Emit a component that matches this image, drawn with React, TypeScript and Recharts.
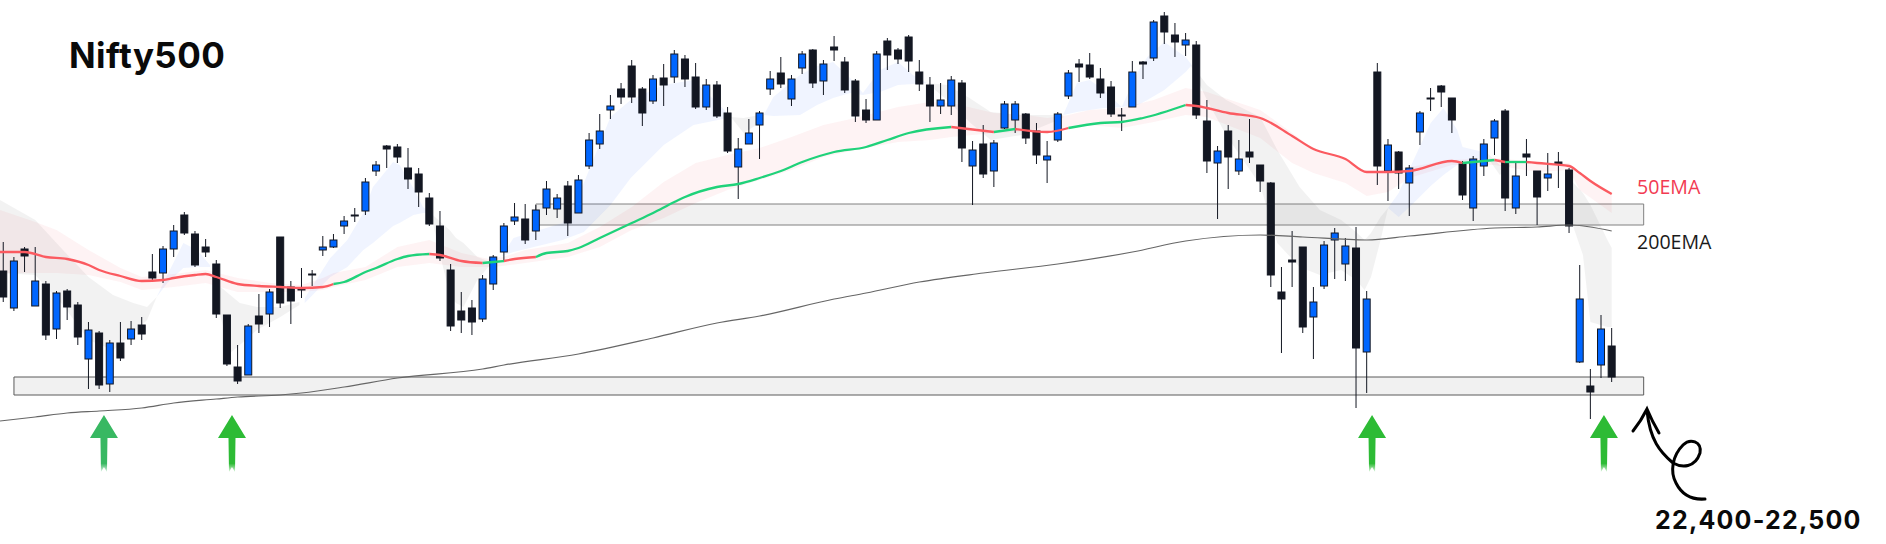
import React from 'react';
import { ComposedChart, XAxis, YAxis, Bar, Line, Area, ReferenceArea, ReferenceDot } from 'recharts';

const highs = [
23175,23100,23150,23150,22980,22930,22940,22875,22775,22730,
22685,22775,22780,22800,23115,23155,23260,23325,23230,23190,
23085,22810,22660,22765,22915,22940,23200,22980,23045,23035,
23205,23215,23305,23345,23495,23580,23660,23665,23645,23545,
23420,23330,23065,22925,22885,23010,23110,23270,23370,23365,
23360,23480,23415,23480,23510,23720,23815,23910,23970,24085,
23950,24010,24065,24135,24110,24070,23990,23980,23850,23695,
23790,23830,24030,24100,24010,24130,24140,24085,24205,24100,
23990,23890,24130,24195,24145,24210,24085,24000,23970,24005,
23985,23680,23760,23685,23880,23880,23820,23770,23680,23825,
24035,24090,24120,24045,23980,23845,24080,24080,24285,24325,
24270,24220,24180,23885,23655,23760,23685,23790,23560,23475,
23050,23230,23150,22950,23180,23245,23195,23250,22930,24070,
23690,23630,23560,23830,23945,23960,23895,23580,23605,23690,
23790,23840,23580,23690,23530,23620,23625,23545,23060,22540,
22810,22745];
const lows = [
22875,22830,23025,22855,22685,22690,22785,22660,22440,22440,
22425,22580,22660,22685,22975,22970,23100,23210,23050,23100,
22795,22555,22465,22510,22720,22750,22845,22765,22895,22955,
23105,23145,23215,23275,23310,23505,23545,23570,23440,23350,
23255,23080,22730,22720,22710,22775,22935,23080,23260,23165,
23185,23310,23295,23205,23320,23540,23640,23790,23865,23870,
23755,23865,23855,23970,23950,23840,23835,23795,23620,23390,
23665,23590,23910,23945,23855,24015,23945,23910,24080,23920,
23775,23770,23785,24035,24065,24025,23930,23775,23815,23810,
23575,23360,23495,23450,23740,23720,23665,23565,23470,23675,
23890,23975,23990,23895,23800,23730,23850,23990,24080,24165,
24100,24105,23790,23520,23290,23440,23510,23570,23425,22950,
22620,22950,22720,22590,22940,22990,22980,22345,22420,23460,
23380,23440,23305,23660,23830,23850,23720,23385,23280,23505,
23610,23330,23315,23505,23260,23430,23445,23220,22570,22290,
22495,22475];
const opens = [
23030,22845,23140,22855,22965,22740,22930,22860,22590,22720,
22465,22670,22690,22760,23025,23020,23140,23310,23215,23150,
23065,22810,22550,22510,22805,22815,23200,22950,22945,23015,
23135,23150,23255,23310,23330,23530,23655,23650,23545,23515,
23395,23255,23035,22830,22845,22790,22965,23125,23280,23290,
23230,23345,23340,23455,23320,23555,23665,23835,23940,24055,
23940,23880,23995,24000,24090,24000,23850,23960,23820,23550,
23665,23760,23940,24020,23890,24045,24135,23980,24150,24075,
23980,23835,23785,24180,24135,24200,24025,23960,23855,23855,
23970,23555,23665,23530,23745,23785,23815,23730,23585,23685,
23905,24065,24060,23990,23950,23810,23850,24075,24095,24305,
24210,24160,24160,23780,23570,23730,23530,23625,23560,23470,
22925,23085,23150,22800,22955,23185,23065,23145,22625,24025,
23530,23625,23470,23725,23895,23955,23895,23565,23345,23555,
23695,23830,23345,23615,23530,23495,23575,23535,22575,22455,
22560,22655];
const closes = [
22900,23080,23105,22980,22710,22920,22850,22700,22735,22460,
22670,22595,22740,22715,22995,23140,23230,23220,23060,23125,
22815,22565,22480,22755,22765,22925,22870,22880,22935,23010,
23150,23185,23280,23305,23475,23560,23640,23600,23490,23425,
23265,23095,22755,22785,22775,22990,23100,23255,23300,23185,
23335,23440,23395,23270,23485,23685,23730,23855,23900,23900,
23820,23990,23960,24115,23990,23850,23960,23805,23630,23640,
23720,23820,23990,23965,23990,24115,23970,24065,24135,23935,
23805,23785,24115,24110,24090,24080,23965,23855,23885,23985,
23645,23635,23515,23670,23865,23865,23695,23610,23605,23815,
24020,24050,24000,23920,23815,23805,24025,24065,24275,24225,
24175,24185,23810,23580,23630,23600,23590,23600,23480,23010,
22890,23075,22750,22875,23160,23220,23155,22645,22890,23555,
23660,23520,23545,23820,23890,23925,23785,23410,23590,23665,
23780,23395,23505,23600,23400,23515,23565,23255,22890,22425,
22740,22500];

const ema50: number[][] = [
[-0.31,23125],[2,23125],[4,23100],[6,23090],[8,23060],[9,23035],[11,23005],[13,22980],[15,22985],[16,22995],
[18,23010],[19,23015],[20,23000],[22,22965],[24,22955],[26,22950],[28,22945],[30,22950],[31,22965],[32,22975],
[34,23025],[35,23045],[37,23090],[38,23105],[40,23115],[41,23110],[43,23080],[45,23070],[46,23075],[47,23080],
[48,23090],[50,23100],[51,23120],[53,23130],[54,23145],[56,23195],[59,23270],[61,23320],[63,23375],[64,23400],
[67,23450],[69,23465],[71,23495],[73,23530],[75,23575],[78,23625],[81,23650],[83,23685],[85,23720],[89,23750],
[93,23725],[95,23740],[98,23725],[100,23745],[103,23770],[105,23775],[107,23795],[111,23860],[112,23855],[115,23820],
[118,23795],[121,23705],[123,23640],[126,23590],[128,23525],[130,23525],[132,23530],[136,23580],[137,23570],[140,23585],
[141,23575],[143,23575],[144,23570],[147,23555],[148,23520],[149,23480],[151,23415]];
const emaSegments: [number, number, string][] = [
[-1,31,'#fb5a60'],[31,40,'#1fd27a'],[40,45,'#fb5a60'],[45,47,'#1fd27a'],[47,50,'#fb5a60'],[50,89,'#1fd27a'],
[89,93,'#fb5a60'],[93,95,'#1fd27a'],[95,100,'#fb5a60'],[100,111,'#1fd27a'],[111,137,'#fb5a60'],[137,140,'#1fd27a'],
[140,141,'#fb5a60'],[141,143,'#1fd27a'],[143,151,'#fb5a60']];
const ema200: number[][] = [
[-0.31,22280],[3,22300],[6,22320],[9,22330],[13,22345],[16,22370],[20,22390],[22,22400],[26,22410],[28,22420],
[32,22450],[37,22495],[45,22540],[47,22560],[54,22615],[61,22695],[67,22770],[71,22805],[78,22890],[81,22920],
[86,22975],[92,23020],[99,23065],[106,23125],[111,23180],[118,23210],[122,23200],[128,23185],[132,23205],[140,23245],
[144,23250],[147,23260],[151,23230]];

const pinkBand: number[][] = [
[-0.31,23335,23020],[3,23275,23020],[5,23235,23020],[8,23135,23010],[11,23045,22975],[13,23000,22935],[16,23015,22950],
[19,23035,22970],[22,22995,22925],[25,22970,22925],[28,22960,22925],[30,22995,22935],[31,23020,22950],[34,23050,22985],
[37,23150,23050],[40,23185,23070],[43,23120,23050],[46,23085,23050],[49,23135,23070],[53,23170,23100],[56,23250,23150],
[59,23350,23235],[62,23475,23295],[65,23570,23370],[68,23610,23435],[71,23645,23485],[74,23700,23535],[77,23760,23600],
[80,23795,23635],[84,23850,23675],[87,23875,23685],[89,23870,23700],[93,23820,23720],[96,23810,23725],[98,23795,23725],
[100,23810,23745],[102,23835,23760],[105,23845,23745],[108,23885,23775],[111,23945,23810],[113,23925,23800],[118,23835,23695],
[121,23720,23570],[123,23640,23520],[126,23590,23470],[128,23525,23405],[130,23535,23425],[132,23550,23495],[136,23585,23560],
[140,23595,23560],[144,23575,23525],[147,23570,23535],[148,23520,23435],[151,23415,23320]];

const grayRibbons: number[][][] = [
 [[-0.31,23385,23020],[3,23285,23010],[5.6,23135,22860],[8,23000,22685],[10.3,22910,22635],[12.2,22870,22720],[13.5,22850,22785],[14.4,22900,22900]],
 [[19.6,23035,23025],[20.4,22950,22800],[21.3,22910,22620],[22.2,22870,22660],[23.8,22850,22735],[26,22850,22800],[27.8,22875,22860]],
 [[40.1,23320,23320],[41.9,23235,22910],[42.5,23195,22870],[43.2,23170,22850],[44.5,23100,22985],[45.7,23075,23060],[46.8,23105,23105]],
 [[68.3,23800,23800],[69.5,23795,23720],[71,23810,23770],[71.4,23810,23810]],
 [[86.7,23970,23970],[88.6,23960,23885],[90.7,23895,23775],[92.7,23825,23685],[95.6,23810,23710],[99.5,23810,23795]],
 [[111.5,24065,24055],[113,23960,23885],[114.8,23885,23710],[118,23800,23460],[119.6,23635,23170],[121.7,23450,23050],[123.6,23335,23010],[125.6,23285,23035],[127,23225,22985],[127.8,23185,22935],[128.4,23220,23000],[129.3,23300,23185],[130,23345,23345]],
 [[139.3,23620,23600],[140.5,23560,23510],[141.5,23560,23555]],
 [[146.8,23550,23550],[147.4,23470,23250],[148.3,23420,23110],[149,23360,22775],[150.6,23185,22750],[151,23145,22750]],
];
const blueRibbons: number[][][] = [
 [[14.4,22900,22900],[15.4,23010,22970],[16.9,23170,23045],[18.2,23135,23050],[19.4,23060,23050]],
 [[28.3,22895,22870],[30.7,23095,23000],[32.3,23185,23050],[33.8,23320,23135],[34.7,23450,23170],[36.6,23575,23255],[37.2,23560,23270],[38.5,23445,23310],[39.4,23350,23320],[40.1,23320,23320]],
 [[46.8,23105,23105],[47.9,23195,23125],[52.5,23270,23185],[54.5,23470,23225],[57,23800,23360],[58.9,23885,23495],[62,23960,23660],[64.8,23985,23760],[68,23820,23795],[68.3,23800,23800]],
 [[71.4,23810,23810],[72.3,23900,23805],[74.8,24010,23810],[76.4,24055,23860],[77.9,24075,23895],[79.5,23995,23920],[80.7,23920,23910],[82.3,24035,23925],[84,24075,23960],[85.4,24010,23965],[86.7,23970,23970]],
 [[99.5,23810,23810],[100.8,23970,23825],[102,23985,23835],[103.3,23935,23845],[105,23850,23850]],
 [[105,23850,23850],[106.5,24025,23860],[107.4,24100,23885],[109,24175,23935],[111,24100,24025],[111.5,24065,24055]],
 [[130,23345,23345],[131,23420,23300],[132.4,23585,23370],[134,23770,23455],[135.2,23845,23510],[136.5,23735,23560],[137,23650,23575],[139.3,23620,23600]],
];

const upperZone = { x1: 50, x2: 154, y1: 23260, y2: 23365 };
const lowerZone = { x1: 1, x2: 154, y1: 22410, y2: 22500 };
const arrowMarks: [number, string][] = [[9.45,'#38b862'],[21.47,'#2dbb35'],[128.5,'#2dbb35'],[150.27,'#2dbb35']];
const arrowTipPrice = 22310;
const title = 'Nifty500';
const rangeLabel = '22,400-22,500';

const candles = highs.map((h, i) => ({ i, high: h, low: lows[i], open: opens[i], close: closes[i] }));
const toRow = (r: number[]) => ({ i: r[0], v: r[1], w: r[2] });

const INK = '#131722';
const UP = '#0066ff';
const BODY = 8;

function Candle(props: any) {
  const { x, y, width, height, high, low, open, close } = props;
  const perUnit = height / (high - low);
  const top = y + (high - Math.max(open, close)) * perUnit;
  const bottom = y + (high - Math.min(open, close)) * perUnit;
  const up = close > open;
  const cx = x + width / 2;
  return (
    <g>
      <line x1={cx} x2={cx} y1={y} y2={y + height} stroke={INK} strokeWidth={1} />
      <rect x={cx - BODY / 2 + 0.5} y={top} width={BODY - 1} height={Math.max(bottom - top, 1)} fill={up ? UP : INK} stroke={INK} strokeWidth={1} />
    </g>
  );
}

function Arrow(props: any) {
  const { cx, cy, fill } = props;
  const id = 'arrow-' + Math.round(cx);
  return (
    <g>
      <defs>
        <linearGradient id={id} gradientUnits="userSpaceOnUse" x1={0} x2={0} y1={cy} y2={cy + 57}>
          <stop offset="0.85" stopColor={fill} />
          <stop offset="1" stopColor={fill} stopOpacity={0.15} />
        </linearGradient>
      </defs>
      <path d={`M${cx},${cy} L${cx + 14},${cy + 23} L${cx + 3.5},${cy + 23} L${cx + 3},${cy + 57} L${cx},${cy + 52} L${cx - 3},${cy + 57} L${cx - 3.5},${cy + 23} L${cx - 14},${cy + 23} Z`} fill={`url(#${id})`} />
    </g>
  );
}

export default function App() {
  return (
    <div style={{ position: 'absolute', left: 0, top: 0, width: 1886, height: 544, overflow: 'hidden', background: '#fff' }}>
      <ComposedChart width={1886} height={544} data={candles} margin={{ top: 0, right: 0, bottom: 0, left: 0 }}>
        <XAxis dataKey="i" type="number" domain={[-0.31, 176.75]} hide allowDataOverflow />
        <YAxis type="number" domain={[21665, 24385]} hide allowDataOverflow width={0} />
        <ReferenceArea {...lowerZone} fill="#7f7f7f" fillOpacity={0.11} stroke="#5a5a5a" strokeWidth={1} ifOverflow="visible" />
        <ReferenceArea {...upperZone} fill="#7f7f7f" fillOpacity={0.11} stroke="#808080" strokeWidth={1} ifOverflow="visible" />
        <Bar dataKey={(d: any) => [d.low, d.high]} barSize={8} shape={(p: any) => <Candle {...p} />} isAnimationActive={false} />
        <Area data={pinkBand.map(toRow)} dataKey={(d: any) => [d.w, d.v]} type="linear" stroke="none" fill="#f23645" fillOpacity={0.06} isAnimationActive={false} dot={false} activeDot={false} />
        {grayRibbons.map((r, k) => (
          <Area key={'g' + k} data={r.map(toRow)} dataKey={(d: any) => [d.w, d.v]} type="linear" stroke="none" fill="#7f7f7f" fillOpacity={0.1} isAnimationActive={false} dot={false} activeDot={false} />
        ))}
        {blueRibbons.map((r, k) => (
          <Area key={'b' + k} data={r.map(toRow)} dataKey={(d: any) => [d.w, d.v]} type="linear" stroke="none" fill="#2962ff" fillOpacity={0.07} isAnimationActive={false} dot={false} activeDot={false} />
        ))}
        <Line data={ema200.map(toRow)} dataKey="v" type="monotone" stroke="#666" strokeWidth={1.2} dot={false} activeDot={false} isAnimationActive={false} />
        {emaSegments.map(([a, b, c], k) => (
          <Line key={'e' + k} data={ema50.filter(p => p[0] >= a && p[0] <= b).map(toRow)} dataKey="v" type="monotone" stroke={c} strokeWidth={2.3} dot={false} activeDot={false} isAnimationActive={false} />
        ))}
        {arrowMarks.map(([x, c], k) => (
          <ReferenceDot key={'a' + k} x={x} y={arrowTipPrice} ifOverflow="visible" fill={c} stroke="none" shape={(p: any) => <Arrow {...p} />} />
        ))}
        <text x={69} y={68} fontFamily="Inter, sans-serif" fontWeight={700} fontSize={35} letterSpacing={0.4} fill="#0a0a0a">{title}</text>
        <text x={1637} y={194} fontFamily="'Open Sans', sans-serif" fontSize={19.6} fill="#f23b52">50EMA</text>
        <text x={1637} y={249} fontFamily="'Open Sans', sans-serif" fontSize={19.6} fill="#1a1a1a">200EMA</text>
        <text x={1655} y={529} fontFamily="Inter, sans-serif" fontWeight={700} fontSize={25} letterSpacing={1.2} fill="#0a0a0a">{rangeLabel}</text>
        <path d="M1633,431 Q1641,421 1647,409 Q1652,421 1659,433 M1647,411 C1650,440 1660,452 1673,463 C1682,468 1695,468 1700,453 C1702,441 1690,438 1683,445 C1672,456 1670,472 1676,483 C1682,495 1692,500 1705,499" fill="none" stroke="#000" strokeWidth={3} strokeLinecap="round" />
      </ComposedChart>
    </div>
  );
}
